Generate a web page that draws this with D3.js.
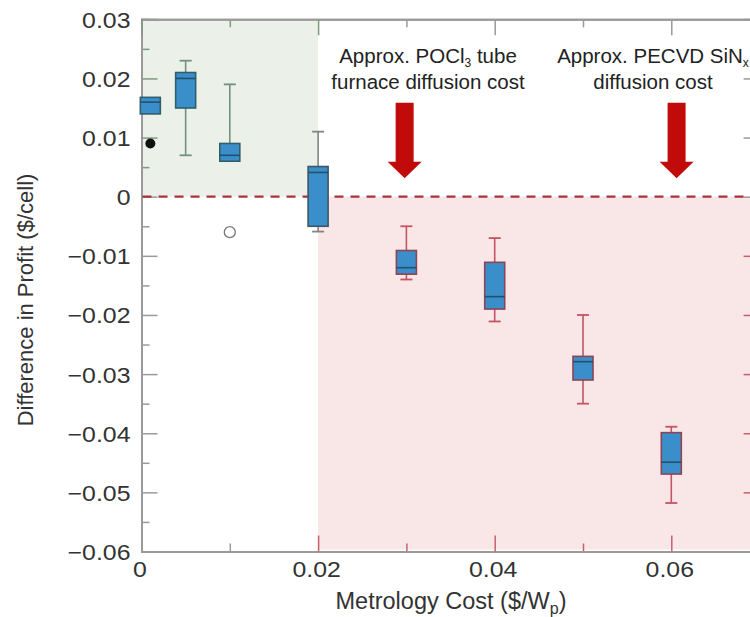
<!DOCTYPE html>
<html>
<head>
<meta charset="utf-8">
<script src="https://cdn.jsdelivr.net/npm/d3@7"></script>
<style>
html,body{margin:0;padding:0;background:#fff;}
svg{display:block;font-family:"Liberation Sans",Arial,sans-serif;}
</style>
</head>
<body>
<svg id="chart" width="750" height="617"></svg>
<script>
// ---- data ----
const costs      = [0.001, 0.005, 0.01, 0.02, 0.03, 0.04, 0.05, 0.06];
const whiskerHi  = [0.0168, 0.0230, 0.0190, 0.0110, -0.0050, -0.0070, -0.0200, -0.0389];
const q3         = [0.0168, 0.0210, 0.0090, 0.0051, -0.0091, -0.0111, -0.0270, -0.0399];
const medians    = [0.0160, 0.0200, 0.0070, 0.0041, -0.0120, -0.0169, -0.0279, -0.0449];
const q1         = [0.0140, 0.0150, 0.0060, -0.0050, -0.0131, -0.0190, -0.0310, -0.0469];
const whiskerLo  = [0.0140, 0.0070, 0.0060, -0.0059, -0.0140, -0.0211, -0.0350, -0.0518];
const filledOutliers = [{x: 0.001, y: 0.009}];
const openOutliers   = [{x: 0.01, y: -0.006}];
const xMajorTicks = [0, 0.02, 0.04, 0.06];
const xMinorTicks = [0.01, 0.03, 0.05];
const yMajorTicks = [0.03, 0.02, 0.01, 0, -0.01, -0.02, -0.03, -0.04, -0.05, -0.06];
const yMinorTicks = [0.025, 0.015, 0.005, -0.005, -0.015, -0.025, -0.035, -0.045, -0.055];
const arrowX   = [0.0298, 0.0606];
const arrowTop = 0.0159, arrowHeadStart = 0.0059, arrowTip = 0.0031;
const breakEvenCost = 0.02;

// ---- layout ----
const svg = d3.select("#chart");
const L = 141.5, R = 759.6, T = 19.3, B = 551.5;
const x = d3.scaleLinear().domain([0, 0.07]).range([L, R]);
const y = d3.scaleLinear().domain([-0.06, 0.03]).range([B, T]);

const GREEN_TICK = "#7f9a7f", RED_TICK = "#c8606c", GRAY = "#9a9a9a";

// regions
svg.append("rect").attr("x", x(0)).attr("y", y(0.03))
  .attr("width", x(breakEvenCost) - x(0)).attr("height", y(0) - y(0.03))
  .attr("fill", "#ebf1e9");
svg.append("rect").attr("x", x(breakEvenCost)).attr("y", y(0))
  .attr("width", x(0.07) - x(breakEvenCost)).attr("height", y(-0.06) - y(0) - 2)
  .attr("fill", "#f9e6e7");

// axes
function styleAxis(g, colorFn) {
  g.select(".domain").attr("stroke", GRAY).attr("stroke-width", 2);
  g.selectAll(".tick line").attr("stroke-width", 1.5).attr("stroke", d => colorFn(d));
  g.selectAll(".tick text").attr("fill", "#333").style("font-size", "22px")
    .style("font-family", "'Liberation Sans', Arial, sans-serif");
}
const yFmt = d => d === 0 ? "0" : d3.format(".2f")(d);
const xFmt = d => d === 0 ? "0" : d3.format(".2f")(d);

const leftColor = d => d > 0 ? GREEN_TICK : GRAY;
const rightColor = d => d < 0 ? RED_TICK : GRAY;
const bottomColor = d => d >= breakEvenCost ? RED_TICK : GRAY;
const topColor = d => d <= breakEvenCost ? GREEN_TICK : GRAY;

svg.append("g").attr("transform", `translate(${L},0)`)
  .call(d3.axisLeft(y).tickValues(yMinorTicks).tickSize(-8).tickFormat(""))
  .call(g => styleAxis(g, leftColor));
svg.append("g").attr("transform", `translate(${L},0)`)
  .call(d3.axisLeft(y).tickValues(yMajorTicks).tickSize(-16).tickPadding(11).tickFormat(yFmt))
  .call(g => styleAxis(g, leftColor))
  .call(g => g.selectAll(".tick text").attr("x", 0).attr("dy", "0.36em")
    .attr("transform", "translate(-11,0) scale(1.13,1)"));

svg.append("g").attr("transform", `translate(${R},0)`)
  .call(d3.axisRight(y).tickValues(yMinorTicks).tickSize(-8).tickFormat(""))
  .call(g => styleAxis(g, rightColor));
svg.append("g").attr("transform", `translate(${R},0)`)
  .call(d3.axisRight(y).tickValues(yMajorTicks).tickSize(-16).tickFormat(""))
  .call(g => styleAxis(g, rightColor));

svg.append("g").attr("transform", `translate(0,${T})`)
  .call(d3.axisTop(x).tickValues(xMinorTicks).tickSize(-8).tickFormat(""))
  .call(g => styleAxis(g, topColor));
svg.append("g").attr("transform", `translate(0,${T})`)
  .call(d3.axisTop(x).tickValues(xMajorTicks).tickSize(-16).tickFormat(""))
  .call(g => styleAxis(g, topColor));

svg.append("g").attr("transform", `translate(0,${B})`)
  .call(d3.axisBottom(x).tickValues(xMinorTicks).tickSize(-8).tickFormat(""))
  .call(g => styleAxis(g, bottomColor));
svg.append("g").attr("transform", `translate(0,${B})`)
  .call(d3.axisBottom(x).tickValues(xMajorTicks).tickSize(-16).tickPadding(10).tickFormat(xFmt))
  .call(g => styleAxis(g, bottomColor))
  .call(g => g.selectAll(".tick text").attr("y", 0).attr("dy", "0.71em")
    .attr("transform", "translate(-2,10) scale(1.13,1)"));

// zero line
svg.append("line").attr("x1", x(0) + 1).attr("x2", 750).attr("y1", y(0)).attr("y2", y(0))
  .attr("stroke", "#a8323e").attr("stroke-width", 2.2).attr("stroke-dasharray", "9,7");

// boxes
const boxW = 20, capW = 12;
const data = costs.map((c, i) => ({c, hi: whiskerHi[i], q3: q3[i], med: medians[i], q1: q1[i], lo: whiskerLo[i]}));
const whiskColor = d => d.c < breakEvenCost ? "#72907a" : (d.c > breakEvenCost ? "#c45462" : "#808484");
const borderColor = d => d.c < breakEvenCost ? "#2f5f6a" : (d.c > breakEvenCost ? "#8c4456" : "#3f5565");

const gb = svg.append("g");
const box = gb.selectAll("g.box").data(data).join("g").attr("class", "box");
box.filter(d => d.hi > d.q3).append("line")
  .attr("x1", d => x(d.c)).attr("x2", d => x(d.c)).attr("y1", d => y(d.hi)).attr("y2", d => y(d.q3))
  .attr("stroke", whiskColor).attr("stroke-width", 1.6);
box.filter(d => d.hi > d.q3).append("line")
  .attr("x1", d => x(d.c) - capW / 2).attr("x2", d => x(d.c) + capW / 2).attr("y1", d => y(d.hi)).attr("y2", d => y(d.hi))
  .attr("stroke", whiskColor).attr("stroke-width", 1.8);
box.filter(d => d.lo < d.q1).append("line")
  .attr("x1", d => x(d.c)).attr("x2", d => x(d.c)).attr("y1", d => y(d.q1)).attr("y2", d => y(d.lo))
  .attr("stroke", whiskColor).attr("stroke-width", 1.6);
box.filter(d => d.lo < d.q1).append("line")
  .attr("x1", d => x(d.c) - capW / 2).attr("x2", d => x(d.c) + capW / 2).attr("y1", d => y(d.lo)).attr("y2", d => y(d.lo))
  .attr("stroke", whiskColor).attr("stroke-width", 1.8);
box.append("rect")
  .attr("x", d => x(d.c) - boxW / 2).attr("width", boxW)
  .attr("y", d => y(d.q3)).attr("height", d => y(d.q1) - y(d.q3))
  .attr("fill", "#3a8fca").attr("stroke", borderColor).attr("stroke-width", 1.6);
box.append("line")
  .attr("x1", d => x(d.c) - boxW / 2).attr("x2", d => x(d.c) + boxW / 2)
  .attr("y1", d => y(d.med)).attr("y2", d => y(d.med))
  .attr("stroke", "#24506e").attr("stroke-width", 1.6);

// outliers
svg.selectAll("circle.filled").data(filledOutliers).join("circle").attr("class", "filled")
  .attr("cx", d => x(d.x)).attr("cy", d => y(d.y)).attr("r", 5).attr("fill", "#111");
svg.selectAll("circle.open").data(openOutliers).join("circle").attr("class", "open")
  .attr("cx", d => x(d.x)).attr("cy", d => y(d.y)).attr("r", 5.5)
  .attr("fill", "#fff").attr("stroke", "#777").attr("stroke-width", 1.3);

// arrows
const shaftW = 18, headW = 34;
svg.selectAll("path.arrow").data(arrowX).join("path").attr("class", "arrow")
  .attr("d", c => {
    const cx = x(c), t = y(arrowTop), h = y(arrowHeadStart), tip = y(arrowTip);
    return `M${cx - shaftW / 2},${t}L${cx + shaftW / 2},${t}L${cx + shaftW / 2},${h}L${cx + headW / 2},${h}L${cx},${tip}L${cx - headW / 2},${h}L${cx - shaftW / 2},${h}Z`;
  })
  .attr("fill", "#c10a0a");

// annotations
const ann = svg.append("g").attr("fill", "#222").style("font-size", "20.5px").attr("text-anchor", "middle");
const t1 = ann.append("text").attr("x", 428).attr("y", 63);
t1.append("tspan").text("Approx. POCl");
t1.append("tspan").text("3").style("font-size", "12px").attr("dy", 4);
t1.append("tspan").text(" tube").attr("dy", -4);
ann.append("text").attr("x", 428).attr("y", 89).text("furnace diffusion cost");
const t2 = ann.append("text").attr("x", 653).attr("y", 63);
t2.append("tspan").text("Approx. PECVD SiN");
t2.append("tspan").text("x").style("font-size", "12px").attr("dy", 4);
ann.append("text").attr("x", 653).attr("y", 89).text("diffusion cost");

// axis titles
const xt = svg.append("text").attr("x", 451).attr("y", 609).attr("text-anchor", "middle")
  .attr("fill", "#333").style("font-size", "23.5px");
xt.append("tspan").text("Metrology Cost ($/W");
xt.append("tspan").text("p").style("font-size", "16px").attr("dy", 5);
xt.append("tspan").text(")").attr("dy", -5);

svg.append("text").attr("transform", "translate(33,300) rotate(-90)").attr("text-anchor", "middle")
  .attr("fill", "#333").style("font-size", "22px").text("Difference in Profit ($/cell)");
</script>
</body>
</html>
